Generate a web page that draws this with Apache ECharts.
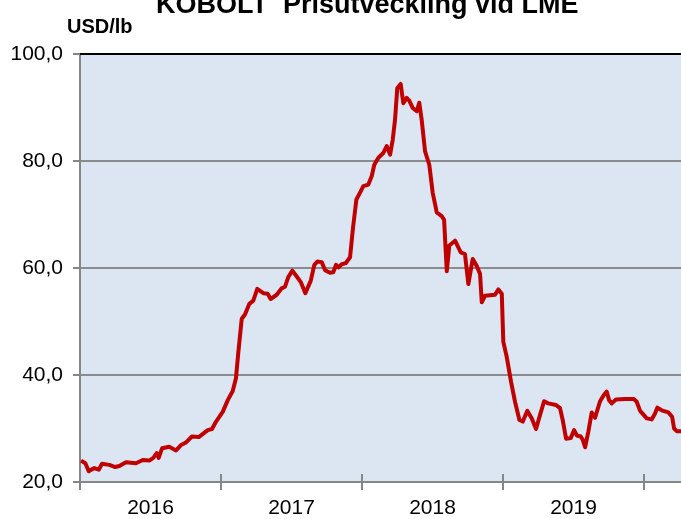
<!DOCTYPE html>
<html>
<head>
<meta charset="utf-8">
<script src="https://cdn.jsdelivr.net/npm/echarts@6/dist/echarts.min.js"></script>
<style>
  html, body { margin: 0; padding: 0; background: #fff; }
  #chart { width: 681px; height: 519px; }
</style>
</head>
<body>
<div id="chart"></div>
<script>
// weekly-ish LME cobalt price (decimal year, USD/lb)
const years = [
  2016.007, 2016.038, 2016.062, 2016.101, 2016.133, 2016.156, 2016.208, 2016.250, 2016.279, 2016.326,
  2016.397, 2016.445, 2016.491, 2016.520, 2016.544, 2016.558, 2016.582, 2016.633, 2016.681, 2016.716,
  2016.752, 2016.794, 2016.842, 2016.906, 2016.936, 2016.965, 2017.012, 2017.048, 2017.083, 2017.106,
  2017.123, 2017.147, 2017.170, 2017.201, 2017.229, 2017.257, 2017.300, 2017.331, 2017.352, 2017.395,
  2017.430, 2017.454, 2017.477, 2017.506, 2017.537, 2017.567, 2017.598, 2017.636, 2017.662, 2017.683,
  2017.714, 2017.738, 2017.773, 2017.796, 2017.816, 2017.832, 2017.856, 2017.884, 2017.915, 2017.936,
  2017.960, 2017.986, 2018.009, 2018.045, 2018.069, 2018.087, 2018.116, 2018.151, 2018.175, 2018.199,
  2018.218, 2018.234, 2018.250, 2018.274, 2018.293, 2018.317, 2018.335, 2018.360, 2018.388, 2018.406,
  2018.423, 2018.447, 2018.477, 2018.501, 2018.530, 2018.565, 2018.582, 2018.601, 2018.619, 2018.660,
  2018.700, 2018.730, 2018.754, 2018.785, 2018.813, 2018.837, 2018.849, 2018.872, 2018.943, 2018.967,
  2018.991, 2019.002, 2019.026, 2019.057, 2019.085, 2019.116, 2019.140, 2019.172, 2019.203, 2019.234,
  2019.262, 2019.291, 2019.321, 2019.376, 2019.404, 2019.423, 2019.447, 2019.480, 2019.504, 2019.523,
  2019.551, 2019.565, 2019.582, 2019.605, 2019.629, 2019.652, 2019.688, 2019.711, 2019.735, 2019.752,
  2019.771, 2019.801, 2019.865, 2019.929, 2019.948, 2019.972, 2020.019, 2020.054, 2020.078, 2020.094,
  2020.125, 2020.172, 2020.199, 2020.213, 2020.232, 2020.262
];
const prices = [
  24.0, 23.5, 22.0, 22.6, 22.3, 23.4, 23.2, 22.8, 23.0, 23.7,
  23.5, 24.1, 24.0, 24.5, 25.4, 24.5, 26.3, 26.6, 25.9, 26.9,
  27.4, 28.5, 28.4, 29.7, 29.9, 31.3, 33.1, 35.3, 37.0, 39.4,
  44.3, 50.5, 51.3, 53.3, 53.9, 56.1, 55.3, 55.2, 54.2, 55.0,
  56.2, 56.5, 58.3, 59.5, 58.4, 57.3, 55.3, 57.6, 60.6, 61.2,
  61.1, 59.6, 59.1, 59.2, 60.6, 60.1, 60.7, 60.9, 62.0, 67.5,
  72.8, 74.1, 75.3, 75.6, 77.2, 79.3, 80.6, 81.5, 82.8, 81.2,
  84.0, 87.7, 93.6, 94.4, 90.8, 91.8, 91.3, 89.9, 89.3, 90.9,
  87.7, 81.8, 79.3, 74.1, 70.4, 69.7, 69.0, 59.4, 64.2, 65.1,
  62.9, 62.6, 57.0, 61.7, 60.4, 58.9, 53.6, 54.8, 55.0, 56.0,
  55.2, 46.2, 43.4, 38.7, 35.0, 31.6, 31.3, 33.3, 31.9, 29.9,
  32.5, 35.1, 34.7, 34.4, 33.8, 31.6, 28.1, 28.2, 29.7, 28.7,
  28.5, 27.9, 26.5, 29.4, 33.0, 32.0, 35.1, 36.1, 36.9, 35.3,
  34.7, 35.4, 35.5, 35.5, 35.0, 33.3, 31.9, 31.7, 32.8, 33.9,
  33.4, 33.0, 32.2, 30.0, 29.5, 29.5
];
const yearTicks = [2016, 2017, 2018, 2019, 2020];
const yearLabelPos = [2016.5, 2017.5, 2018.5, 2019.5];

const xMin = 2016, xMax = 2020.262;
const axisGray = '#868686';
const font = '"Liberation Sans", Arial, sans-serif';

const chart = echarts.init(document.getElementById('chart'), null, { renderer: 'canvas' });

const baseX = {
  type: 'value', min: xMin, max: xMax, gridIndex: 0,
  splitLine: { show: false }
};

chart.setOption({
  animation: false,
  backgroundColor: '#ffffff',
  title: [
    {
      text: 'KOBOLT  Prisutveckling vid LME',
      left: 151, top: -13,
      textStyle: { fontFamily: font, fontWeight: 'bold', fontSize: 27, color: '#000' }
    },
    {
      text: 'USD/lb',
      left: 62, top: 12,
      textStyle: { fontFamily: font, fontWeight: 'bold', fontSize: 20, color: '#000' }
    }
  ],
  grid: {
    left: 80, top: 54, right: 0, bottom: 35,
    show: true, backgroundColor: '#dce6f2', borderWidth: 0
  },
  xAxis: [
    // bottom axis: line, outside ticks, year labels between ticks
    Object.assign({}, baseX, {
      position: 'bottom',
      axisLine: { show: true, onZero: false, lineStyle: { color: axisGray, width: 2 } },
      axisTick: { show: true, customValues: yearTicks, length: 8, lineStyle: { color: axisGray, width: 2 } },
      axisLabel: {
        customValues: yearLabelPos, margin: 16,
        formatter: (v) => String(Math.floor(v)),
        fontFamily: font, fontSize: 21, color: '#000'
      }
    }),
    // inside half of the crossing ticks
    Object.assign({}, baseX, {
      position: 'bottom',
      axisLine: { show: false },
      axisTick: { show: true, inside: true, customValues: yearTicks, length: 8, lineStyle: { color: axisGray, width: 2 } },
      axisLabel: { show: false }
    }),
    // black frame line along the top
    Object.assign({}, baseX, {
      position: 'top',
      axisLine: { show: true, lineStyle: { color: '#000', width: 2 } },
      axisTick: { show: false },
      axisLabel: { show: false }
    })
  ],
  yAxis: {
    type: 'value', min: 20, max: 100, interval: 20,
    axisLine: { show: true, lineStyle: { color: axisGray, width: 2 } },
    axisTick: { show: true, length: 7, lineStyle: { color: axisGray, width: 2 } },
    axisLabel: {
      margin: 17, fontFamily: font, fontSize: 21, color: '#000',
      formatter: (v) => v.toFixed(1).replace('.', ',')
    },
    splitLine: { show: true, lineStyle: { color: '#8c8c8c', width: 2 } }
  },
  series: [{
    type: 'line',
    xAxisIndex: 0,
    data: years.map((y, i) => [y, prices[i]]),
    showSymbol: false,
    smooth: false,
    lineStyle: { color: '#c00000', width: 4, join: 'round' },
    itemStyle: { color: '#c00000' }
  }]
});
</script>
</body>
</html>
